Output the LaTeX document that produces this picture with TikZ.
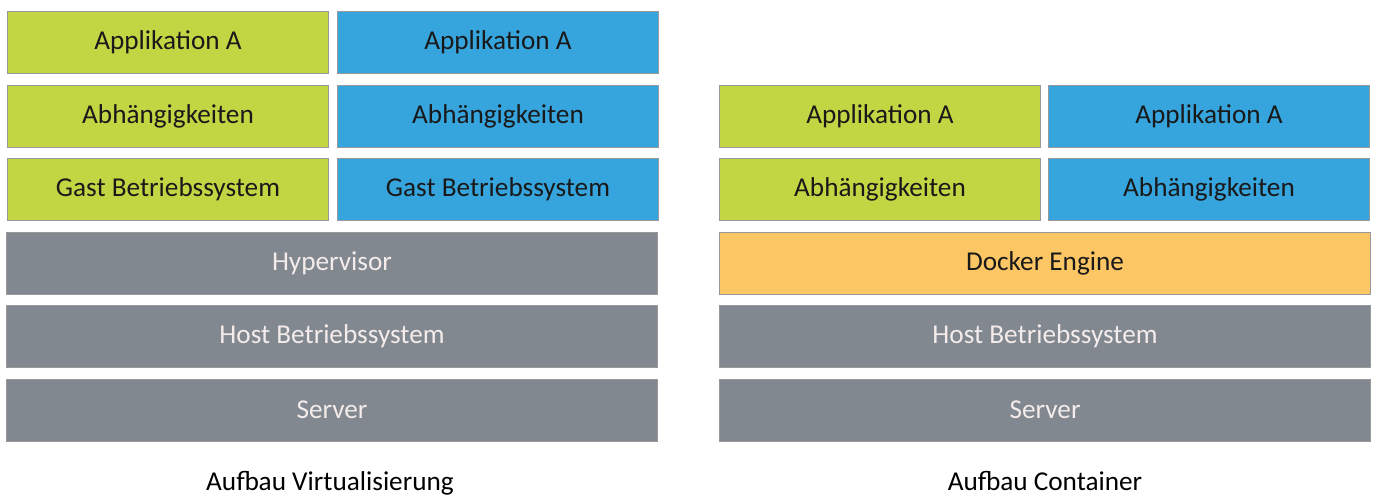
\documentclass[tikz,border=0pt]{standalone}
\usepackage{fontspec}
\setmainfont{Carlito}
\definecolor{appgreen}{HTML}{C2D644}
\definecolor{appblue}{HTML}{36A4DD}
\definecolor{basegray}{HTML}{818890}
\definecolor{engineorange}{HTML}{FDC665}
\definecolor{graytext}{HTML}{F4ECEA}
\tikzset{
  layer/.style={draw=black!40,line width=0.4pt,minimum height=62*0.02cm,inner sep=0pt,font=\fontsize{15.5}{18}\selectfont},
  half/.style={layer,minimum width=321*0.02cm},
  full/.style={layer,minimum width=651*0.02cm},
  green/.style={half,fill=appgreen,text=black!90},
  blue/.style={half,fill=appblue,text=black!90},
  gray/.style={full,fill=basegray,text=graytext},
  caption/.style={font=\fontsize{15.5}{18}\selectfont,anchor=base}
}
\begin{document}
\begin{tikzpicture}[x=0.02cm,y=-0.02cm]
\useasboundingbox (0,0) rectangle (1375,497);
% virtualisation stack
\node[green] (vapp1) at (168,42) {Applikation A};
\node[blue] (vapp2) at (498,42) {Applikation A};
\node[green] (vdep1) at (168,116) {Abhängigkeiten};
\node[blue] (vdep2) at (498,116) {Abhängigkeiten};
\node[green] (vguest1) at (168,189) {Gast Betriebssystem};
\node[blue] (vguest2) at (498,189) {Gast Betriebssystem};
\node[gray] (vhyper) at (332,263) {Hypervisor};
\node[gray] (vhost) at (332,336) {Host Betriebssystem};
\node[gray] (vserver) at (332,410) {Server};
\node[caption] (vcap) at (330,490) {Aufbau Virtualisierung};
% container stack
\node[green] (capp1) at (880,116) {Applikation A};
\node[blue] (capp2) at (1209,116) {Applikation A};
\node[green] (cdep1) at (880,189) {Abhängigkeiten};
\node[blue] (cdep2) at (1209,189) {Abhängigkeiten};
\node[full,fill=engineorange,text=black!90] (cengine) at (1045,263) {Docker Engine};
\node[gray] (chost) at (1045,336) {Host Betriebssystem};
\node[gray] (cserver) at (1045,410) {Server};
\node[caption] (ccap) at (1045,490) {Aufbau Container};
\end{tikzpicture}
\end{document}
